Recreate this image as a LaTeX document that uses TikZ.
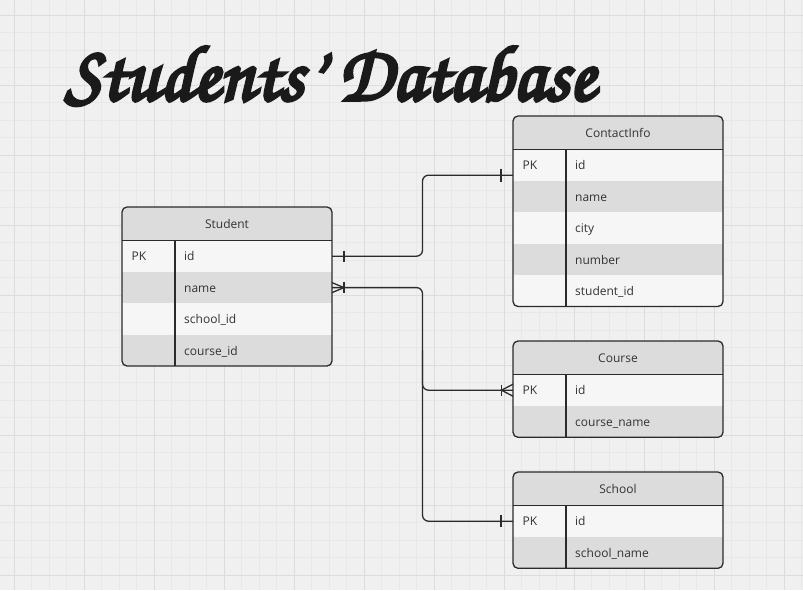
\documentclass[tikz,border=0pt]{standalone}
\usepackage{fontspec}
\setsansfont{Open Sans}
\usetikzlibrary{positioning}

\definecolor{bggray}{HTML}{F0F0F0}
\definecolor{gridminor}{HTML}{E8E8E8}
\definecolor{gridmajor}{HTML}{DCDCDC}
\definecolor{hdrgray}{HTML}{DCDCDC}
\definecolor{rowlt}{HTML}{F6F6F6}
\definecolor{rowdk}{HTML}{DCDCDC}
\definecolor{linegray}{HTML}{2B2B2B}
\definecolor{txtgray}{HTML}{333333}
\definecolor{titleblack}{HTML}{1A1A1A}

\newcommand{\tablefont}{\sffamily\fontsize{12}{14}\selectfont}
\newcommand{\titlefont}{\fontencoding{T1}\fontfamily{pzc}\fontseries{mb}\fontshape{it}\selectfont}
% stroke the title glyphs to make them heavier
\newcommand{\heavytext}[1]{\special{pdf:literal direct 2 Tr 0.45 w}#1\special{pdf:literal direct 0 Tr}}

\begin{document}
\begin{tikzpicture}[x=1pt, y=-1pt,
    frame/.style={draw=linegray, line width=1.3pt, rounded corners=5pt},
    divider/.style={draw=linegray, line width=1.3pt},
    hdr/.style={fill=hdrgray, text=txtgray, font=\tablefont, minimum width=210pt,
        minimum height=33.5pt, inner sep=0pt, outer sep=0pt, anchor=north west},
    rowlight/.style={fill=rowlt, minimum width=210pt, minimum height=31.4pt,
        inner sep=0pt, outer sep=0pt},
    rowdark/.style={rowlight, fill=rowdk},
    field/.style={text=txtgray, font=\tablefont, anchor=mid west, inner sep=0pt, yshift=-2.5pt},
    edge/.style={draw=linegray, line width=1.3pt, rounded corners=6pt},
    barmark/.style={draw=linegray, line width=1.3pt}]

    % Background and grid
    \fill[bggray] (0,0) rectangle (803,590);
    \useasboundingbox (0,0) rectangle (803,590);
    \draw[gridminor, line width=0.6pt, step=17.5pt, shift={(14,15)}] (-14,-15) grid (789,575);
    \draw[gridmajor, line width=0.9pt, step=70pt, shift={(14,15)}] (-14,-15) grid (789,575);

    % Title
    \node[anchor=base west, inner sep=0pt, text=titleblack] (title) at (65,100)
        {\resizebox{530pt}{56pt}{\titlefont\heavytext{Students' Database}}};

    % Student table
    \coordinate (st) at (122,207);
    \begin{scope}
        \clip[rounded corners=5pt] (st) rectangle ++(210,159);
        \node[hdr] (st-hd) at (st) {Student};
        \node[rowlight, below=0pt of st-hd] (st-r1) {};
        \node[rowdark, below=0pt of st-r1] (st-r2) {};
        \node[rowlight, below=0pt of st-r2] (st-r3) {};
        \node[rowdark, below=0pt of st-r3] (st-r4) {};
    \end{scope}
    \draw[frame] (st) rectangle ++(210,159);
    \draw[divider] (st-hd.south west) -- (st-hd.south east);
    \draw[divider] ([xshift=53pt]st-r1.north west) -- ([xshift=53pt]st-r4.south west);
    \node[field] (st-pk) at ([xshift=9.5pt]st-r1.west) {PK};
    \node[field] (st-f1) at ([xshift=62pt]st-r1.west) {id};
    \node[field] (st-f2) at ([xshift=62pt]st-r2.west) {name};
    \node[field] (st-f3) at ([xshift=62pt]st-r3.west) {school\_id};
    \node[field] (st-f4) at ([xshift=62pt]st-r4.west) {course\_id};

    % ContactInfo table
    \coordinate (ci) at (513,116);
    \begin{scope}
        \clip[rounded corners=5pt] (ci) rectangle ++(210,190.5);
        \node[hdr] (ci-hd) at (ci) {ContactInfo};
        \node[rowlight, below=0pt of ci-hd] (ci-r1) {};
        \node[rowdark, below=0pt of ci-r1] (ci-r2) {};
        \node[rowlight, below=0pt of ci-r2] (ci-r3) {};
        \node[rowdark, below=0pt of ci-r3] (ci-r4) {};
        \node[rowlight, below=0pt of ci-r4] (ci-r5) {};
    \end{scope}
    \draw[frame] (ci) rectangle ++(210,190.5);
    \draw[divider] (ci-hd.south west) -- (ci-hd.south east);
    \draw[divider] ([xshift=53pt]ci-r1.north west) -- ([xshift=53pt]ci-r5.south west);
    \node[field] (ci-pk) at ([xshift=9.5pt]ci-r1.west) {PK};
    \node[field] (ci-f1) at ([xshift=62pt]ci-r1.west) {id};
    \node[field] (ci-f2) at ([xshift=62pt]ci-r2.west) {name};
    \node[field] (ci-f3) at ([xshift=62pt]ci-r3.west) {city};
    \node[field] (ci-f4) at ([xshift=62pt]ci-r4.west) {number};
    \node[field] (ci-f5) at ([xshift=62pt]ci-r5.west) {student\_id};

    % Course table
    \coordinate (co) at (513,341);
    \begin{scope}
        \clip[rounded corners=5pt] (co) rectangle ++(210,96.3);
        \node[hdr] (co-hd) at (co) {Course};
        \node[rowlight, below=0pt of co-hd] (co-r1) {};
        \node[rowdark, below=0pt of co-r1] (co-r2) {};
    \end{scope}
    \draw[frame] (co) rectangle ++(210,96.3);
    \draw[divider] (co-hd.south west) -- (co-hd.south east);
    \draw[divider] ([xshift=53pt]co-r1.north west) -- ([xshift=53pt]co-r2.south west);
    \node[field] (co-pk) at ([xshift=9.5pt]co-r1.west) {PK};
    \node[field] (co-f1) at ([xshift=62pt]co-r1.west) {id};
    \node[field] (co-f2) at ([xshift=62pt]co-r2.west) {course\_name};

    % School table
    \coordinate (sc) at (513,472);
    \begin{scope}
        \clip[rounded corners=5pt] (sc) rectangle ++(210,96.3);
        \node[hdr] (sc-hd) at (sc) {School};
        \node[rowlight, below=0pt of sc-hd] (sc-r1) {};
        \node[rowdark, below=0pt of sc-r1] (sc-r2) {};
    \end{scope}
    \draw[frame] (sc) rectangle ++(210,96.3);
    \draw[divider] (sc-hd.south west) -- (sc-hd.south east);
    \draw[divider] ([xshift=53pt]sc-r1.north west) -- ([xshift=53pt]sc-r2.south west);
    \node[field] (sc-pk) at ([xshift=9.5pt]sc-r1.west) {PK};
    \node[field] (sc-f1) at ([xshift=62pt]sc-r1.west) {id};
    \node[field] (sc-f2) at ([xshift=62pt]sc-r2.west) {school\_name};

    % Connectors
    \coordinate (bus) at (422.5,0);
    \coordinate (ci-in) at ([yshift=-10pt]ci-r1.west);
    \draw[edge] (st-r1.east) -- (st-r1.east -| bus) |- (ci-in);
    \draw[edge] (st-r2.east) -- (st-r2.east -| bus) |- (sc-r1.west);
    \draw[edge] (bus |- st-r4.center) |- (co-r1.west);

    % One and many marks
    \draw[barmark] ([xshift=12pt,yshift=5.5pt]st-r1.east) -- ([xshift=12pt,yshift=-5.5pt]st-r1.east);
    \draw[barmark] ([xshift=-12pt,yshift=6.5pt]ci-in) -- ([xshift=-12pt,yshift=-6.5pt]ci-in);
    \draw[barmark] ([yshift=5pt]st-r2.east) -- ([xshift=12pt]st-r2.east) -- ([yshift=-5pt]st-r2.east);
    \draw[barmark] ([xshift=12pt,yshift=5.5pt]st-r2.east) -- ([xshift=12pt,yshift=-5.5pt]st-r2.east);
    \draw[barmark] ([yshift=6pt]co-r1.west) -- ([xshift=-11.5pt]co-r1.west) -- ([yshift=-6pt]co-r1.west);
    \draw[barmark] ([xshift=-11.5pt,yshift=5.5pt]co-r1.west) -- ([xshift=-11.5pt,yshift=-5.5pt]co-r1.west);
    \draw[barmark] ([xshift=-12pt,yshift=6pt]sc-r1.west) -- ([xshift=-12pt,yshift=-6pt]sc-r1.west);
\end{tikzpicture}
\end{document}
